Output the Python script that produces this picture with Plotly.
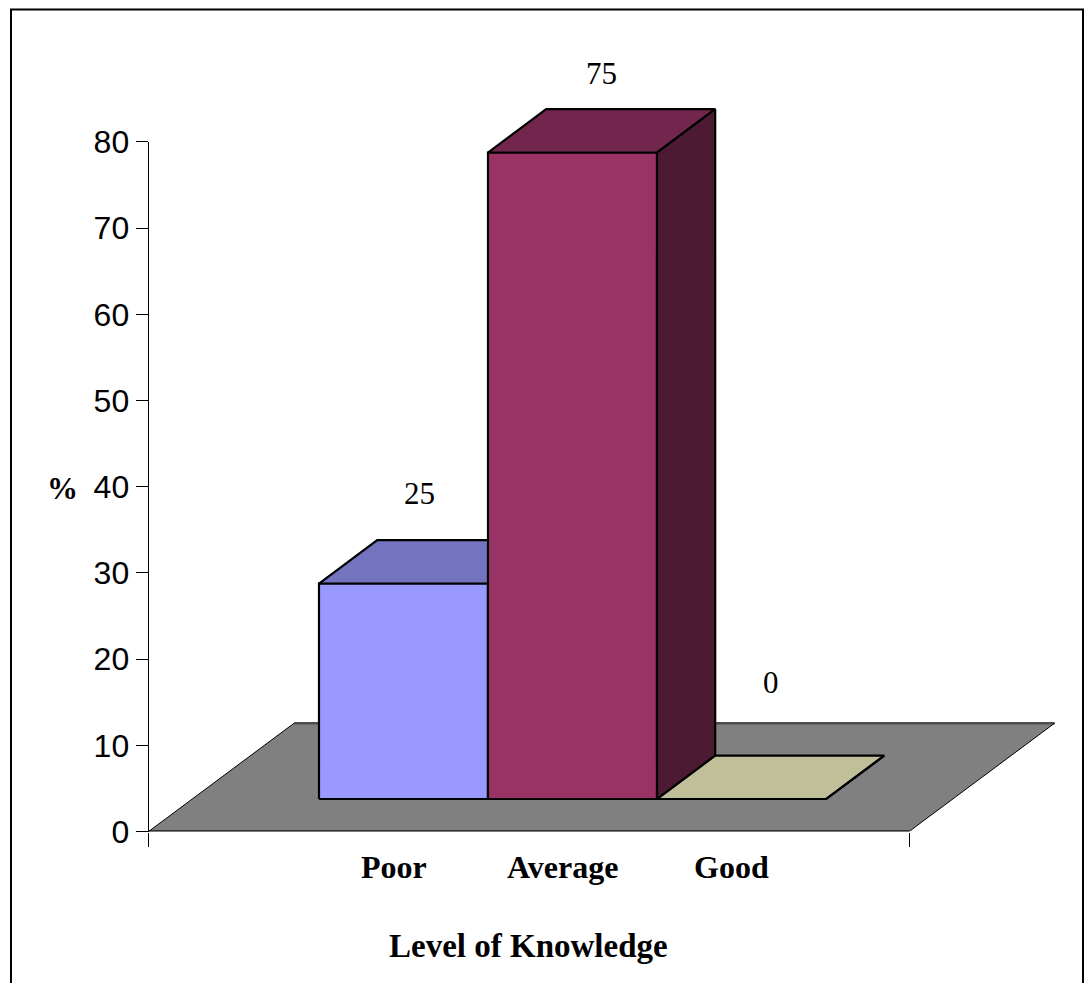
import plotly.graph_objects as go

# ---- data ----
categories = ["Poor", "Average", "Good"]
percent = [25, 75, 0]
y_ticks = [0, 10, 20, 30, 40, 50, 60, 70, 80]

# ---- styling ----
front_colors = ["#9999FF", "#993366", "#FFFFCC"]
top_colors = ["#7373BF", "#73264D", "#BFBF99"]
side_colors = ["#4D4D80", "#4D1A33", "#808066"]
label_shift_x = [-13, 0, 0]      # pixel nudges for value labels
label_shift_y = [68, 57, 95]

W, H = 1085, 983
PX_L, PX_R = 148.6, 1075.0       # plot-area left/right in pixels
PY_0, PY_TOP = 831.5, 20.0       # pixel of value 0, top of drawing area
PPU_X, PPU_Y = 169.0, 8.62       # pixels per category unit / per percent
X0 = -1.25                       # floor front-left in category units

# oblique depth vector (full floor depth) in data units
DX = 145.5 / PPU_X
DY = 108.3 / PPU_Y
D_FRONT, D_BACK = 0.3, 0.7       # bar depth band
FLOOR_U = (X0, 3.25)


def proj(u, h, d):
    """Project (category position, height, depth fraction) to axis coords."""
    return u + d * DX, h + d * DY


def poly(points):
    xs, ys = zip(*[proj(*p) for p in points])
    return list(xs) + [xs[0]], list(ys) + [ys[0]]


fig = go.Figure()

common = dict(mode="lines", xaxis="x", yaxis="y2", showlegend=False,
              hoverinfo="skip")

# floor
fx, fy = poly([(FLOOR_U[0], 0, 0), (FLOOR_U[1], 0, 0),
               (FLOOR_U[1], 0, 1), (FLOOR_U[0], 0, 1)])
fig.add_trace(go.Scatter(x=fx, y=fy, fill="toself", fillcolor="#808080",
                         line=dict(width=0), **common))
for (a, b), col, w in [(((FLOOR_U[0], 0, 0), (FLOOR_U[1], 0, 0)), "#1a1a1a", 2.5),
                       (((FLOOR_U[0], 0, 1), (FLOOR_U[1], 0, 1)), "#4d4d4d", 2.5),
                       (((FLOOR_U[0], 0, 0), (FLOOR_U[0], 0, 1)), "#000000", 1),
                       (((FLOOR_U[1], 0, 0), (FLOOR_U[1], 0, 1)), "#000000", 1)]:
    p1, p2 = proj(*a), proj(*b)
    fig.add_trace(go.Scatter(x=[p1[0], p2[0]], y=[p1[1], p2[1]],
                             line=dict(color=col, width=w), **common))

# 3-D columns
for i, v in enumerate(percent):
    l, r = i - 0.5, i + 0.5
    faces = [
        ([(l, 0, D_FRONT), (r, 0, D_FRONT), (r, v, D_FRONT), (l, v, D_FRONT)], front_colors[i]),
        ([(l, v, D_FRONT), (r, v, D_FRONT), (r, v, D_BACK), (l, v, D_BACK)], top_colors[i]),
        ([(r, 0, D_FRONT), (r, 0, D_BACK), (r, v, D_BACK), (r, v, D_FRONT)], side_colors[i]),
    ]
    for pts, col in faces:
        px, py = poly(pts)
        fig.add_trace(go.Scatter(x=px, y=py, fill="toself", fillcolor=col,
                                 line=dict(color="black", width=2.2),
                                 **common))

serif = "Liberation Serif, Times New Roman"

# value labels
for i, v in enumerate(percent):
    lx, ly = proj(i, v, 0.5)
    fig.add_annotation(x=lx, y=ly, xref="x", yref="y2", text=str(v),
                       showarrow=False, xshift=label_shift_x[i],
                       yshift=label_shift_y[i],
                       xanchor="center", yanchor="middle",
                       font=dict(family=serif, size=31, color="black"))

# category labels
for i, c in enumerate(categories):
    fig.add_annotation(x=i + 0.2, y=(H - 867) / H, xref="x", yref="paper",
                       text=f"<b>{c}</b>", showarrow=False,
                       xanchor="center", yanchor="middle",
                       font=dict(family=serif, size=32, color="black"))

# axis titles
fig.add_annotation(x=528 / W, y=(H - 946) / H, xref="paper", yref="paper",
                   text="<b>Level of Knowledge</b>", showarrow=False,
                   xanchor="center", yanchor="middle",
                   font=dict(family=serif, size=33, color="black"))
fig.add_annotation(x=62 / W, y=(H - 488) / H, xref="paper", yref="paper",
                   text="<b>%</b>", showarrow=False,
                   xanchor="center", yanchor="middle",
                   font=dict(family=serif, size=31, color="black"))

# anchor trace for the visible value axis
fig.add_trace(go.Scatter(x=[None], y=[None], xaxis="x", yaxis="y",
                         showlegend=False, hoverinfo="skip"))

x_range = [X0, X0 + (PX_R - PX_L) / PPU_X]
fig.update_layout(
    width=W, height=H, autosize=False,
    margin=dict(l=0, r=0, t=0, b=0, pad=0, autoexpand=False),
    paper_bgcolor="white", plot_bgcolor="rgba(0,0,0,0)",
    showlegend=False,
    xaxis=dict(domain=[PX_L / W, PX_R / W], range=x_range, anchor="y2",
               tickmode="array", tickvals=[FLOOR_U[0], FLOOR_U[1]],
               showticklabels=False, ticks="outside", ticklen=14,
               tickcolor="black", tickwidth=1, showgrid=False,
               zeroline=False, showline=False, fixedrange=True,
               automargin=False),
    yaxis=dict(domain=[(H - PY_0) / H, (H - (PY_0 - 80 * PPU_Y)) / H],
               range=[0, 80], anchor="x", tickmode="array",
               tickvals=y_ticks, ticktext=[str(t) for t in y_ticks],
               ticks="outside", ticklen=12, tickcolor="black", tickwidth=1,
               showline=True, linecolor="black", linewidth=1,
               showgrid=False, zeroline=False, automargin=False,
               tickfont=dict(family="Liberation Sans, Arial", size=32,
                             color="black")),
    yaxis2=dict(domain=[(H - PY_0) / H, (H - PY_TOP) / H],
                range=[0, (PY_0 - PY_TOP) / PPU_Y], anchor="x",
                visible=False, showgrid=False, zeroline=False,
                automargin=False),
    shapes=[dict(type="rect", xref="paper", yref="paper",
                 x0=11 / W, x1=1083 / W, y0=-0.02, y1=1 - 9.5 / H,
                 line=dict(color="black", width=2), fillcolor="rgba(0,0,0,0)",
                 layer="above")],
)

fig.write_html("out.html")
